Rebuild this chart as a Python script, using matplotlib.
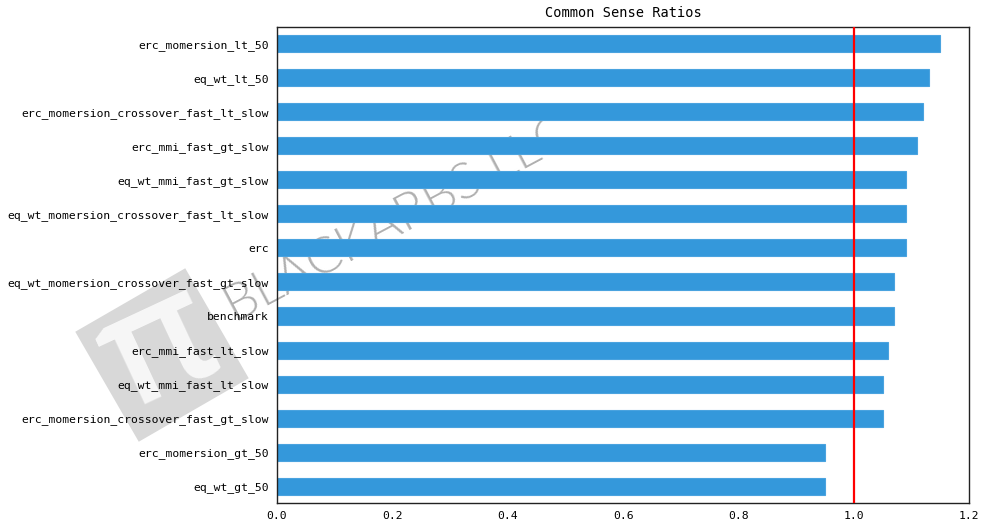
import numpy as np
import matplotlib
matplotlib.use("Agg")
from matplotlib import pyplot as plt
from matplotlib.patches import Rectangle
import matplotlib.transforms as mtransforms

plt.rcParams["font.family"] = "DejaVu Sans Mono"

# top to bottom as shown
strategies = ["erc_momersion_lt_50", "eq_wt_lt_50", "erc_momersion_crossover_fast_lt_slow",
              "erc_mmi_fast_gt_slow", "eq_wt_mmi_fast_gt_slow", "eq_wt_momersion_crossover_fast_lt_slow",
              "erc", "eq_wt_momersion_crossover_fast_gt_slow", "benchmark", "erc_mmi_fast_lt_slow",
              "eq_wt_mmi_fast_lt_slow", "erc_momersion_crossover_fast_gt_slow",
              "erc_momersion_gt_50", "eq_wt_gt_50"]
ratios = [1.15, 1.13, 1.12, 1.11, 1.09, 1.09, 1.09, 1.07, 1.07, 1.06, 1.05, 1.05, 0.95, 0.95]
x_ticks = [0.0, 0.2, 0.4, 0.6, 0.8, 1.0, 1.2]

########################################################################################################################

fig = plt.figure(figsize=(9.89, 5.31), dpi=100)
ax = fig.add_axes([0.280, 0.0527, 0.700, 0.8965])
ax.patch.set_alpha(0)

ypos = np.arange(len(strategies))[::-1]
ax.barh(ypos, ratios, height=0.5, color="#3498db", edgecolor="#4aa3df", lw=0.8, zorder=2)
ax.axvline(1.0, color="red", lw=1.6, zorder=3)

ax.set_ylim(-0.5, len(strategies) - 0.5)
ax.set_xlim(0, 1.2)
ax.set_yticks(ypos)
ax.set_yticklabels(strategies, fontsize=8.2)
ax.set_xticks(x_ticks)
ax.set_xticklabels(["%.1f" % t for t in x_ticks], fontsize=8.2)
ax.tick_params(length=0, pad=6)
for s in ax.spines.values():
    s.set_color("#222222")
    s.set_linewidth(1.0)
ax.set_title("Common Sense Ratios", fontsize=9.8, pad=7)

# watermark: pi logo square + company name, behind the axes
rect = Rectangle((-63.5, -63.5), 127, 127, facecolor="#d8d8d8", edgecolor="none", zorder=-2,
                 transform=mtransforms.Affine2D().rotate_deg(30).translate(162, 531 - 355))
fig.patches.append(rect)
fig.text(160 / 989.0, 1 - 350 / 531.0, "\u03c0", fontsize=115, color="white", alpha=0.8, rotation=25,
         ha="center", va="center", family="Open Sans", fontweight=600, zorder=-1)
fig.text(398 / 989.0, 1 - 220 / 531.0, "BLACKARBS LLC", fontsize=37, color="#b0b0b0", rotation=28,
         ha="center", va="center", family="Lato", fontweight=300, zorder=-1)

plt.savefig("out.png", dpi=100)
